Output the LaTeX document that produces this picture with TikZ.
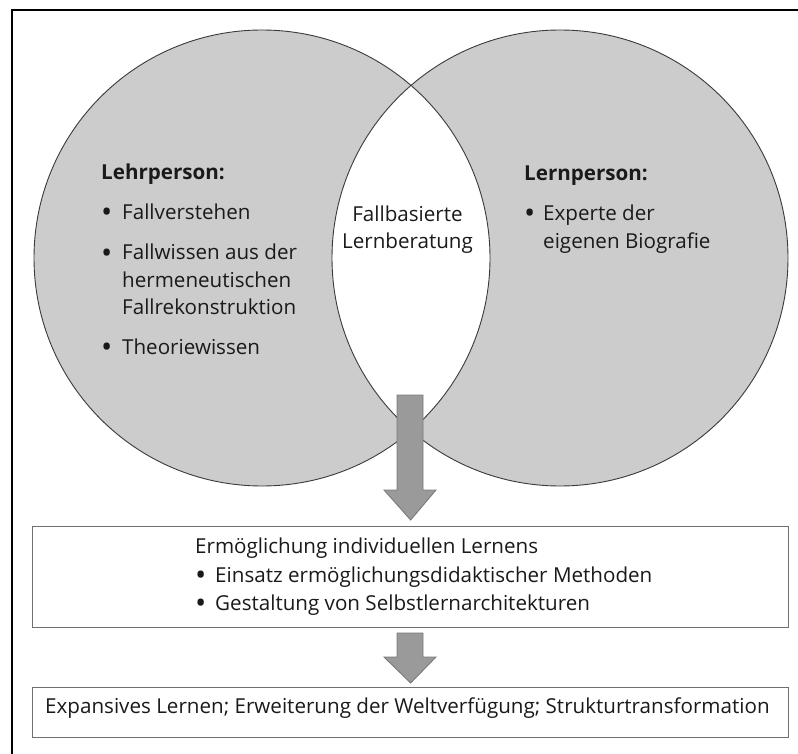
\documentclass[tikz,border=0pt]{standalone}
\usepackage{fontspec}
\setmainfont{Open Sans}
\usetikzlibrary{calc}
\definecolor{circfill}{HTML}{CCCCCC}
\definecolor{circline}{HTML}{3A3A3A}
\definecolor{arrfill}{HTML}{9A9A9A}
\definecolor{arrline}{HTML}{7A7A7A}
\definecolor{boxline}{HTML}{707070}
\definecolor{txtcol}{HTML}{1A1A1A}
\newcommand{\bul}{\raisebox{-3pt}{\scalebox{1.45}{•}}}
\newcommand{\lines}[1]{\begin{tabular}[t]{@{}l@{}}#1\end{tabular}}
\newcommand{\clines}[1]{\begin{tabular}[t]{@{}c@{}}#1\end{tabular}}
\begin{document}
\begin{tikzpicture}[x=1pt,y=-1pt,
  txt/.style={font=\fontsize{20.6}{27.5}\selectfont, text=txtcol, inner sep=0pt, anchor=base west},
  ctxt/.style={txt, anchor=base},
  ring/.style={draw=circline, line width=0.9pt},
  boxnode/.style={draw=boxline, line width=1.3pt, fill=white, inner sep=0pt, anchor=north west},
  blockarrow/.style={fill=arrfill, draw=arrline, line width=0.9pt, line join=miter}]
\useasboundingbox (0,0) rectangle (798,754);
% frame (cropped)
\draw[line width=2pt, black] (798,10) -- (12,10) -- (12,754);
% circles
\coordinate (cl) at (262,258);
\coordinate (cr) at (560,258);
\fill[circfill] (cl) circle[radius=228pt];
\fill[circfill] (cr) circle[radius=228pt];
\begin{scope}
  \clip (cl) circle[radius=228pt];
  \fill[white] (cr) circle[radius=228pt];
\end{scope}
\draw[ring] (cl) circle[radius=228pt];
\draw[ring] (cr) circle[radius=228pt];
% boxes
\node[boxnode, minimum width=756pt, minimum height=101pt] (b1) at (32,526) {};
\node[boxnode, minimum width=756pt, minimum height=50pt] (b2) at (32,687) {};
% arrows
\coordinate (a1) at (410,395);
\coordinate (a2) at (410,633);
\draw[blockarrow] (a1) ++(-13,0) -- ++(26,0) -- ++(0,95) -- ++(13,0)
  -- ($(b1.north)+(0,-6)$) -- ($(a1)+(-26,95)$) -- ($(a1)+(-13,95)$) -- cycle;
\draw[blockarrow] (a2) ++(-13,0) -- ++(26,0) -- ++(0,24) -- ++(13,0)
  -- ($(b2.north)+(0,-4)$) -- ($(a2)+(-26,24)$) -- ($(a2)+(-13,24)$) -- cycle;
% left circle text
\node[txt] (lh) at (101,180) {\textbf{Lehrperson:}};
\node[txt] (lb1) at (101,220) {\bul};
\node[txt] (l1) at (122,220) {Fallverstehen};
\node[txt] (lb2) at (101,260) {\bul};
\node[txt] (l2) at (122,260) {\lines{Fallwissen aus der\\hermeneutischen\\Fallrekonstruktion}};
\node[txt] (lb3) at (101,354) {\bul};
\node[txt] (l3) at (122,354) {Theoriewissen};
% lens text
\node[ctxt] (lens) at (407.5,221.5) {\clines{Fallbasierte\\Lernberatung}};
% right circle text
\node[txt] (rh) at (524,181) {\textbf{Lernperson:}};
\node[txt] (rb1) at (524,221) {\bul};
\node[txt] (r1) at (543,221) {\lines{Experte der\\eigenen Biografie}};
% box 1 text
\node[txt] (t1) at (195,553) {Ermöglichung individuellen Lernens};
\node[txt] (tb1) at (195,582) {\bul};
\node[txt] (t2) at (215,582) {Einsatz ermöglichungsdidaktischer Methoden};
\node[txt] (tb2) at (195,610) {\bul};
\node[txt] (t3) at (215,610) {Gestaltung von Selbstlernarchitekturen};
% box 2 text
\node[txt] (t4) at (45,713) {Expansives Lernen; Erweiterung der Weltverfügung; Strukturtransformation};
\end{tikzpicture}
\end{document}
